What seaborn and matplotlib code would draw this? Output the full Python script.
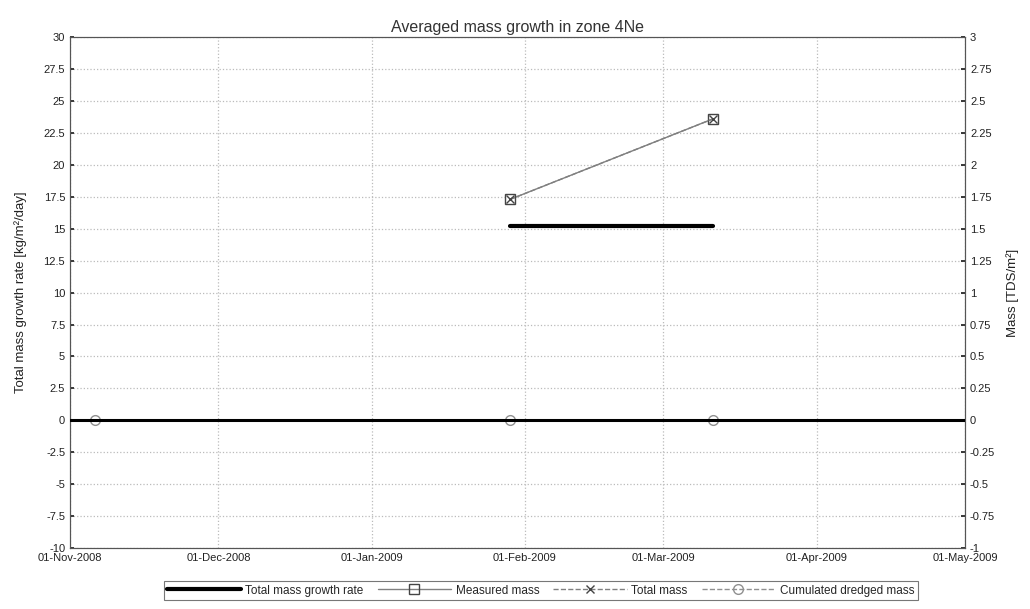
import pandas as pd
import matplotlib.pyplot as plt
import matplotlib.dates as mdates
from matplotlib.lines import Line2D
import seaborn as sns

# data
rate_dates = ["2009-01-29", "2009-03-11"]
rate_values = [15.2, 15.2]  # kg/m2/day

meas_dates = ["2009-01-29", "2009-03-11"]
meas_values = [1.73, 2.36]  # TDS/m2
total_values = [1.73, 2.36]

dredge_dates = ["2008-11-06", "2009-01-29", "2009-03-11"]
dredge_values = [0.0, 0.0, 0.0]

tick_dates = ["2008-11-01", "2008-12-01", "2009-01-01", "2009-02-01",
              "2009-03-01", "2009-04-01", "2009-05-01"]

sns.set_theme(style="white")
plt.rcParams["font.family"] = ["Liberation Sans", "DejaVu Sans"]

rate_df = pd.DataFrame({"date": pd.to_datetime(rate_dates), "rate": rate_values})
meas_df = pd.DataFrame({"date": pd.to_datetime(meas_dates), "measured": meas_values,
                        "total": total_values})
dredge_df = pd.DataFrame({"date": pd.to_datetime(dredge_dates), "dredged": dredge_values})

fig = plt.figure(figsize=(10.3, 6.09), dpi=100)
ax = fig.add_axes([0.068, 0.100, 0.869, 0.839])
ax2 = ax.twinx()

sns.lineplot(data=rate_df, x="date", y="rate", ax=ax, color="black", lw=3, zorder=4)

sns.lineplot(data=meas_df, x="date", y="measured", ax=ax2, color="#808080", lw=1,
             marker="s", markersize=7, markerfacecolor="none",
             markeredgecolor="#444444", markeredgewidth=1)
sns.lineplot(data=meas_df, x="date", y="total", ax=ax2, color="#808080", lw=1,
             linestyle="--", marker="x", markersize=6, markeredgecolor="#444444",
             markeredgewidth=1)
sns.lineplot(data=dredge_df, x="date", y="dredged", ax=ax2, color="#909090", lw=1,
             linestyle="--", marker="o", markersize=7, markerfacecolor="none",
             markeredgecolor="#909090", markeredgewidth=1, zorder=2)
# zero rate line sits on top of the dredged-mass dashes
ax2.axhline(0, color="black", lw=2.2, zorder=3)

ticks = pd.to_datetime(tick_dates)
ax.set_xlim(ticks[0], ticks[-1])
ax.set_xticks(ticks)
ax.xaxis.set_major_formatter(mdates.DateFormatter("%d-%b-%Y"))
ax.set_ylim(-10, 30)
ax.set_yticks([i * 2.5 for i in range(-4, 13)])
ax.set_yticklabels([f"{v:g}" for v in ax.get_yticks()])
ax2.set_ylim(-1, 3)
ax2.set_yticks([i * 0.25 for i in range(-4, 13)])
ax2.set_yticklabels([f"{v:g}" for v in ax2.get_yticks()])

ax.grid(True, color="#bbbbbb", linestyle=":", lw=0.9)
ax.set_axisbelow(True)
for a in (ax, ax2):
    a.tick_params(labelsize=8, colors="#222222", length=3, direction="in")
    for s in a.spines.values():
        s.set_color("#555555")
        s.set_linewidth(0.8)

ax.set_xlabel("")
ax.set_ylabel("Total mass growth rate [kg/m²/day]", fontsize=9.5, color="#222222",
              labelpad=12)
ax2.set_ylabel("Mass [TDS/m²]", fontsize=9.5, color="#222222", labelpad=8)
ax2.set_xlabel("")
ax.set_title("Averaged mass growth in zone 4Ne", fontsize=11.5, color="#333333", pad=4)

handles = [
    Line2D([], [], color="black", lw=3),
    Line2D([], [], color="#808080", lw=1, marker="s", markerfacecolor="none",
           markeredgecolor="#444444", markersize=7),
    Line2D([], [], color="#808080", lw=1, linestyle="--", marker="x",
           markeredgecolor="#444444", markersize=6),
    Line2D([], [], color="#909090", lw=1, linestyle="--", marker="o",
           markerfacecolor="none", markeredgecolor="#909090", markersize=7),
]
labels = ["Total mass growth rate", "Measured mass", "Total mass", "Cumulated dredged mass"]
leg = fig.legend(handles, labels, loc="lower center", bbox_to_anchor=(0.525, 0.005),
                 ncol=4, fontsize=8.5, frameon=True, fancybox=False, handlelength=6.2,
                 columnspacing=1.2, handletextpad=0.4, borderpad=0.3)
leg.get_frame().set_edgecolor("#555555")
leg.get_frame().set_linewidth(0.8)

fig.savefig("out.png", dpi=100)
plt.close(fig)
